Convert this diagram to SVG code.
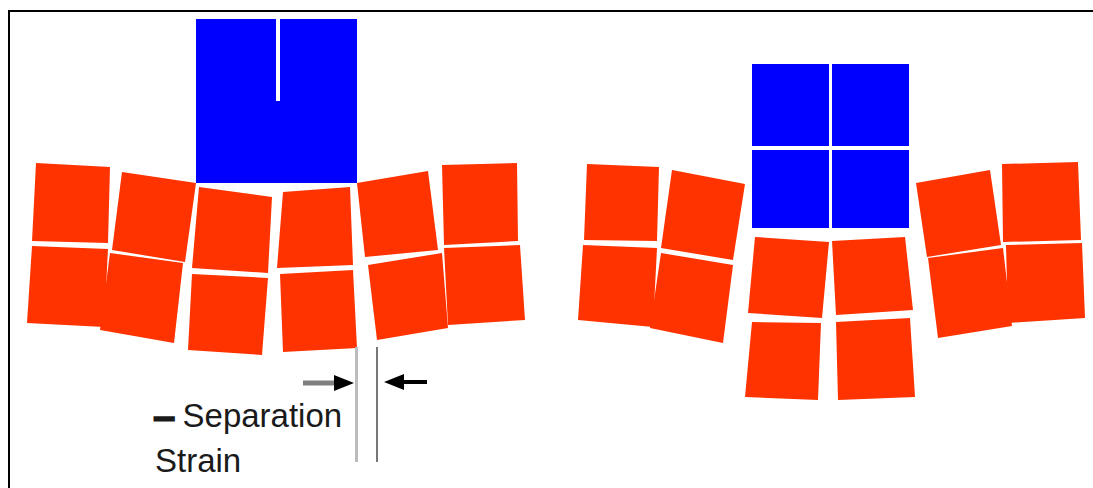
<svg xmlns="http://www.w3.org/2000/svg" width="1093" height="488" viewBox="0 0 1093 488">
  <style>
    .frame { fill: none; stroke: #000; stroke-width: 2; }
    .red { fill: #ff3300; }
    .blue { fill: #0000ff; }
    .gap { fill: #fff; }
    .label { font-family: "Liberation Sans", Arial, sans-serif; font-size: 33px; fill: #1a1a1a; }
  </style>
  <defs>
    <marker id="head" markerUnits="userSpaceOnUse" markerWidth="20" markerHeight="16" refX="11" refY="8" orient="auto">
      <path d="M0,0 L20,8 L0,16 z" fill="#000"/>
    </marker>
  </defs>

  <rect width="1093" height="488" fill="#fff"/>
  <!-- open frame: top and left edges -->
  <path class="frame" d="M9,488 V11 H1093"/>

  <!-- left assembly: solid block with a partial slit -->
  <g id="block-left">
    <rect class="blue" x="196" y="19" width="161" height="164"/>
    <rect class="gap" x="276" y="19" width="4" height="82"/>
  </g>

  <g id="tiles-left">
    <polygon id="tA" class="red" points="36,163 110,167 108,243 32,241"/>
    <polygon id="tB" class="red" points="122,172 196,183 185,262 112,250"/>
    <polygon id="tC" class="red" points="32,246 108,249 104,327 27,323"/>
    <polygon id="tD" class="red" points="110,253 183,263 174,343 100,330"/>
    <polygon id="tE" class="red" points="199,187 272,197 268,273 192,268"/>
    <polygon id="tF" class="red" points="283,192 350,187 353,265 277,268"/>
    <polygon id="tG" class="red" points="192,274 268,278 262,355 188,350"/>
    <polygon id="tH" class="red" points="280,274 353,270 357,348 283,352"/>
    <polygon id="tI" class="red" points="357,183 428,171 438,250 365,257"/>
    <polygon id="tJ" class="red" points="442,165 517,163 518,241 444,245"/>
    <polygon id="tK" class="red" points="368,265 442,253 448,328 377,340"/>
    <polygon id="tL" class="red" points="444,248 520,245 525,320 448,325"/>
  </g>

  <!-- right assembly: four separate blocks -->
  <g id="block-right">
    <rect class="blue" x="752" y="64" width="77" height="82"/>
    <rect class="blue" x="832" y="64" width="77" height="82"/>
    <rect class="blue" x="752" y="150" width="77" height="78"/>
    <rect class="blue" x="832" y="150" width="77" height="78"/>
  </g>

  <g id="tiles-right">
    <polygon id="tM" class="red" points="587,164 659,167 657,241 584,240"/>
    <polygon id="tN" class="red" points="672,170 745,184 733,260 661,248"/>
    <polygon id="tO" class="red" points="583,245 657,248 653,327 578,320"/>
    <polygon id="tP" class="red" points="661,253 733,265 723,343 650,328"/>
    <polygon id="tQ" class="red" points="755,237 829,242 822,318 748,313"/>
    <polygon id="tR" class="red" points="832,241 905,237 913,310 836,315"/>
    <polygon id="tS" class="red" points="752,322 821,323 818,400 745,397"/>
    <polygon id="tT" class="red" points="836,322 910,318 915,397 838,400"/>
    <polygon id="tU" class="red" points="916,183 990,170 1001,245 927,257"/>
    <polygon id="tV" class="red" points="1002,164 1078,162 1081,240 1003,242"/>
    <polygon id="tW" class="red" points="928,258 1003,248 1012,326 938,338"/>
    <polygon id="tX" class="red" points="1006,245 1082,243 1085,318 1008,323"/>
  </g>

  <!-- dimension for the separation gap -->
  <g id="connectors">
    <line x1="356.5" y1="347" x2="356.5" y2="462" stroke="#bcbcbc" stroke-width="3"/>
    <line x1="377" y1="347" x2="377" y2="462" stroke="#777" stroke-width="2"/>
    <path d="M303,383 H345" stroke="#808080" stroke-width="5" fill="none" marker-end="url(#head)"/>
    <path d="M427,382 H393" stroke="#000" stroke-width="4" fill="none" marker-end="url(#head)"/>
  </g>

  <g id="caption">
    <text class="label" x="155" y="427"><tspan stroke="#1a1a1a" stroke-width="3">–</tspan> Separation</text>
    <text class="label" x="155" y="472">Strain</text>
  </g>
</svg>
